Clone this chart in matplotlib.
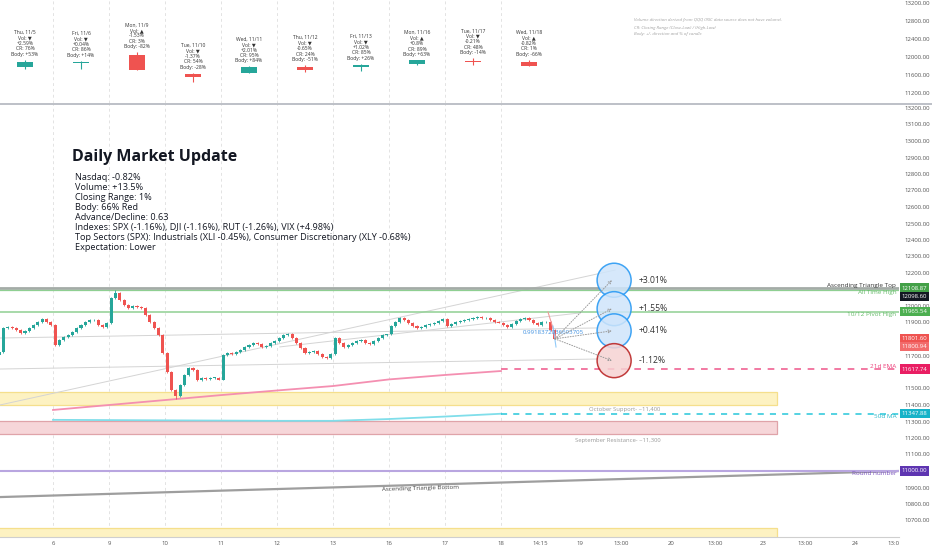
import matplotlib
matplotlib.use('Agg')
import matplotlib.pyplot as plt
from matplotlib.lines import Line2D
from matplotlib.patches import Rectangle

plt.rcParams['font.family'] = ['Open Sans', 'DejaVu Sans']

# ---------------- data ----------------
day_ticks = [0, 1, 2, 3, 4, 5, 6, 7, 8]
day_labels = ['6', '9', '10', '11', '12', '13', '16', '17', '18']
future_ticks = [8.70, 9.41, 10.14, 11.04, 11.82, 12.68, 13.43, 14.32, 15.00]
future_labels = ['14:15', '19', '13:00', '20', '13:00', '23', '13:00', '24', '13:0']

# intraday (30 min) closes, one list per session: 11/5 .. 11/18
session_start = [-1, 0, 1, 2, 3, 4, 5, 6, 7, 8]
first_open = 11703
closes_1105 = [11721, 11867, 11873, 11867, 11855, 11836, 11848, 11867, 11885, 11903, 11921, 11903, 11885]
closes_1106 = [11764, 11794, 11812, 11824, 11842, 11867, 11885, 11903, 11915, 11915, 11885, 11873, 11897]
closes_1109 = [12048, 12079, 12036, 12006, 11988, 12000, 11994, 11988, 11945, 11903, 11867, 11824, 11715]
closes_1110 = [11600, 11491, 11455, 11521, 11582, 11624, 11612, 11552, 11564, 11558, 11564, 11564, 11554]
closes_1111 = [11703, 11715, 11709, 11721, 11733, 11751, 11764, 11776, 11770, 11751, 11758, 11776, 11788]
closes_1112 = [11806, 11824, 11830, 11806, 11776, 11745, 11715, 11721, 11727, 11709, 11691, 11685, 11710]
closes_1113 = [11806, 11776, 11751, 11764, 11776, 11788, 11794, 11776, 11770, 11788, 11806, 11824, 11829]
closes_1116 = [11879, 11903, 11927, 11915, 11897, 11879, 11867, 11873, 11885, 11891, 11897, 11909, 11924]
closes_1117 = [11879, 11891, 11903, 11909, 11915, 11921, 11927, 11933, 11927, 11927, 11915, 11903, 11899]
closes_1118 = [11885, 11873, 11891, 11909, 11921, 11927, 11915, 11897, 11885, 11903, 11903, 11855, 11801]
intraday = [closes_1105, closes_1106, closes_1109, closes_1110, closes_1111,
            closes_1112, closes_1113, closes_1116, closes_1117, closes_1118]
wick_pad = 4
wick_high_override = {(2, 1): 12100}
wick_low_override = {(3, 2): 11436}

# daily summary panel
daily_x = [-0.5, 0.5, 1.5, 2.5, 3.5, 4.5, 5.5, 6.5, 7.5, 8.5]
daily_date = ['Thu, 11/5', 'Fri, 11/6', 'Mon, 11/9', 'Tue, 11/10', 'Wed, 11/11',
              'Thu, 11/12', 'Fri, 11/13', 'Mon, 11/16', 'Tue, 11/17', 'Wed, 11/18']
daily_vol = ['▼', '▼', '▲', '▼', '▼', '▼', '▼', '▲', '▼', '▲']
daily_chg = ['+2.59%', '+0.04%', '-1.53%', '-1.37%', '+2.01%', '-0.65%', '+1.02%', '+0.8%', '-0.21%', '-0.82%']
daily_cr = ['76%', '86%', '3%', '54%', '95%', '24%', '85%', '89%', '48%', '1%']
daily_body = ['+53%', '+14%', '-82%', '-28%', '+84%', '-51%', '+26%', '+63%', '-14%', '-66%']
daily_open = [11785, 11870, 12050, 11613, 11652, 11786, 11785, 11848, 11920, 11894]
daily_high = [11939, 11920, 12108, 11651, 11794, 11824, 11855, 11937, 11977, 11940]
daily_low = [11739, 11740, 11701, 11440, 11634, 11674, 11685, 11817, 11827, 11800]
daily_close = [11891, 11895, 11714, 11554, 11786, 11710, 11829, 11924, 11899, 11801]
top_ticks = [11200, 11600, 12000, 12400, 12800, 13200]

# levels
asc_top = 12108.87
ath = 12098.60
pivot_1012 = 11965.54
ema21_last = 11617.74
ma50_last = 11347.88
round_num = 11000.00
last_price = 11800.94
ema21_x = [0, 1, 2, 3, 4, 5, 6, 7, 8]
ema21_y = [11370, 11400, 11430, 11460, 11488, 11515, 11555, 11582, 11606]
ma50_x = [0, 2, 4, 5, 6, 7, 8]
ma50_y = [11310, 11307, 11304, 11304, 11315, 11330, 11347]
oct_zone = [11400, 11480]
sep_zone = [11224, 11303]
low_zone = [10560, 10655]
zone_end = 12.93
tri_bot_x = [-0.95, 15.11]
tri_bot_y = [10842, 11000]
chan_a_x = [-0.95, 10.04]
chan_a_y = [11400, 12218]
chan_b_x = [4.05, 9.41]
chan_b_y = [11752, 11958]
chan_c_x = [-0.95, 9.72]
chan_c_y = [11806, 11867]
chan_d_x = [-0.95, 9.77]
chan_d_y = [11618, 11679]
proj_pct = [3.01, 1.55, 0.41, -1.12]
proj_x = 10.02
ratio_text = '0.9918372036693705'

# right-scale ticks (values hidden behind price tags are left out)
main_ticks = [10700, 10800, 10900, 11100, 11200, 11300, 11400, 11500, 11700, 11900,
              12000, 12200, 12300, 12400, 12500, 12600, 12700, 12800, 12900, 13000,
              13100, 13200]
tag_vals = [12108.87, 12098.60, 11965.54, 11801.60, 11800.94, 11617.74, 11347.88, 11000.00]
tag_colors = ['#43a047', '#131722', '#4caf50', '#ef5350', '#f26b6b', '#e91e63', '#17b3c8', '#5e35b1']
tag_shift_px = [0, -7, 0, 0, -8, 0, 0, 0]

title = 'Daily Market Update'
summary_lines = [
    'Nasdaq: -0.82%',
    'Volume: +13.5%',
    'Closing Range: 1%',
    'Body: 66% Red',
    'Advance/Decline: 0.63',
    'Indexes: SPX (-1.16%), DJI (-1.16%), RUT (-1.26%), VIX (+4.98%)',
    'Top Sectors (SPX): Industrials (XLI -0.45%), Consumer Discretionary (XLY -0.68%)',
    'Expectation: Lower',
]
notes = ['Volume direction derived from QQQ (IXIC data source does not have volume).',
         'CR: Closing Range (Close-Low) / (High-Low)',
         'Body: +/- direction and % of candle']

UP, DN = '#26a69a', '#ef5350'
GRAY_TXT = '#555555'

# ---------------- figure ----------------
W, H = 932, 550
fig = plt.figure(figsize=(W / 100, H / 100), dpi=100)
fig.patch.set_facecolor('white')


def fbox(l, t, r, b):
    return [l / W, 1 - b / H, (r - l) / W, (b - t) / H]


ax = fig.add_axes(fbox(0, 104, 899, 537))
axt = fig.add_axes(fbox(0, 0, 899, 103))


def xd(px):
    return (px - 53) / 56.0


def yd(py):
    return 11000 + (471 - py) / 0.165


def tyd(py):
    return 12000 + (57 - py) / 0.045


for a in (ax, axt):
    a.set_xlim(xd(0), xd(899))
    for s in a.spines.values():
        s.set_visible(False)
    a.set_facecolor('white')
    for t in day_ticks:
        a.axvline(t, color='#e3e3e3', lw=0.7, ls=(0, (3, 3)), zorder=0)

ax.set_ylim(yd(537), yd(104))
axt.set_ylim(tyd(103), tyd(0))

# ---- y axes
ax.yaxis.tick_right()
ax.set_yticks(main_ticks)
ax.set_yticklabels([f'{v:.2f}' for v in main_ticks])
ax.tick_params(axis='y', length=0, pad=4, labelsize=4.3, labelcolor=GRAY_TXT)
axt.yaxis.tick_right()
axt.set_yticks(top_ticks)
axt.set_yticklabels([f'{v:.2f}' for v in top_ticks])
axt.tick_params(axis='y', length=0, pad=4, labelsize=4.3, labelcolor=GRAY_TXT)
axt.set_xticks([])

# ---- x axis
ax.set_xticks(day_ticks + future_ticks)
ax.set_xticklabels(day_labels + future_labels)
ax.tick_params(axis='x', length=0, pad=3, labelsize=4.3, labelcolor=GRAY_TXT)
ax.spines['bottom'].set_visible(True)
ax.spines['bottom'].set_color('#cfcfcf')
ax.spines['bottom'].set_linewidth(0.8)

# separator between panels
fig.add_artist(Line2D([0, 1], [1 - 103.5 / H, 1 - 103.5 / H], color='#b2b5be', lw=1.2))

# ---- zones
for (lo, hi), fc, ec in [(oct_zone, '#fdf2c2', '#f5df8c'),
                         (sep_zone, '#f6d6d9', '#dfa3a9'),
                         (low_zone, '#fdf2c2', '#f5df8c')]:
    ax.add_patch(Rectangle((xd(0) - 0.05, lo), zone_end - xd(0) + 0.05, hi - lo,
                           fc=fc, ec=ec, lw=0.9, zorder=1))
ax.text(xd(625), yd(410), 'October Support- ~11,400', fontsize=4.2, color='#9a9a9a',
        ha='center', va='center', zorder=2)
ax.text(xd(618), yd(441), 'September Resistance- ~11,300', fontsize=4.2, color='#9a9a9a',
        ha='center', va='center', zorder=2)

# ---- trend / channel lines
for xx, yy in [(chan_a_x, chan_a_y), (chan_b_x, chan_b_y), (chan_c_x, chan_c_y), (chan_d_x, chan_d_y)]:
    ax.plot(xx, yy, color='#d4d4d4', lw=0.7, zorder=2)
ax.plot(tri_bot_x, tri_bot_y, color='#9e9e9e', lw=1.6, zorder=2)
ax.text(xd(420), yd(488), 'Ascending Triangle Bottom', fontsize=4.4, color='#444',
        ha='center', va='center', rotation=1.7, zorder=3)

# horizontal levels
ax.axhline(asc_top, color='#a4aba7', lw=2.0, zorder=2)
ax.axhline(ath, color='#8fcf92', lw=0.9, zorder=2)
ax.axhline(pivot_1012, color='#8fcf92', lw=1.1, zorder=2)
ax.axhline(round_num, color='#b9a6e0', lw=1.5, zorder=2)

ytr = ax.get_yaxis_transform()
ax.text(0.997, asc_top, 'Ascending Triangle Top', transform=ytr, ha='right', va='bottom',
        fontsize=4.6, color='#333', zorder=6)
ax.text(0.997, ath, 'All Time High', transform=ytr, ha='right', va='top',
        fontsize=4.6, color='#66bb6a', zorder=6)
ax.text(0.997, pivot_1012, '10/12 Pivot High', transform=ytr, ha='right', va='top',
        fontsize=4.6, color='#66bb6a', zorder=6)
ax.text(0.997, ema21_last, '21d EMA', transform=ytr, ha='right', va='bottom',
        fontsize=4.6, color='#ec407a', zorder=6)
ax.text(0.997, ma50_last, '50d MA', transform=ytr, ha='right', va='top',
        fontsize=4.6, color='#26b6c8', zorder=6)
ax.text(0.997, round_num, 'Round number', transform=ytr, ha='right', va='top',
        fontsize=4.6, color='#7e57c2', zorder=6)

# moving averages
ax.plot(ema21_x, ema21_y, color='#f48fb1', lw=1.3, zorder=3)
ax.plot([ema21_x[-1], xd(899)], [ema21_last, ema21_last], color='#f06292', lw=1.2,
        dashes=(4, 4), zorder=3)
ax.plot(ma50_x, ma50_y, color='#80deea', lw=1.3, zorder=3)
ax.plot([ma50_x[-1], xd(899)], [ma50_last, ma50_last], color='#26c6da', lw=1.1,
        dashes=(4, 4), zorder=3)

# ---- intraday candles
xs, opens, closes, highs, lows = [], [], [], [], []
prev = first_open
for di, (d, day) in enumerate(zip(session_start, intraday)):
    n = len(day)
    for i, c in enumerate(day):
        o = prev
        xs.append(d + (i + 0.5) / n)
        opens.append(o)
        closes.append(c)
        highs.append(wick_high_override.get((di, i), max(o, c) + wick_pad))
        lows.append(wick_low_override.get((di, i), min(o, c) - wick_pad))
        prev = c
cols = [UP if c >= o else DN for o, c in zip(opens, closes)]
bottoms = [min(o, c) for o, c in zip(opens, closes)]
heights = [max(abs(c - o), 3.0) for o, c in zip(opens, closes)]
ax.vlines(xs, lows, highs, colors=cols, lw=0.6, zorder=4)
ax.bar(xs, heights, bottom=bottoms, width=0.72 / 13, color=cols, lw=0, zorder=4)

# small drawing marks near last bar
ax.plot([xd(548), xd(556)], [yd(312), yd(338)], color='#ef9a9a', lw=0.8, zorder=5)
ax.plot([xd(553), xd(556)], [yd(326), yd(347)], color='#90caf9', lw=0.8, zorder=5)
ax.text(xd(523), yd(333), ratio_text, fontsize=4.4, color='#3d8fe0', ha='left', va='center', zorder=6)

# ---- projections
targets = [last_price * (1 + p / 100) for p in proj_pct]
circ_face = ['#cfe5fb', '#cfe5fb', '#cfe5fb', '#f6d3d3']
circ_edge = ['#2196f3', '#2196f3', '#2196f3', '#b71c1c']
ax.scatter([proj_x] * 4, targets, s=600, c=circ_face, edgecolors=circ_edge,
           linewidths=1.1, alpha=0.85, zorder=7)
for tgt in targets:
    ax.annotate('', xy=(proj_x - 0.04, tgt), xytext=(xs[-1], last_price),
                arrowprops=dict(arrowstyle='->', color='#9a9a9a', lw=0.7, ls=':',
                                shrinkA=0, shrinkB=0, mutation_scale=5), zorder=8)
for p, tgt in zip(proj_pct, targets):
    ax.text(xd(639), tgt, f'{p:+.2f}%', fontsize=6.2, color='#333', ha='left',
            va='center', zorder=8)

# ---- price tags on the right scale
for v, col, sh in zip(tag_vals, tag_colors, tag_shift_px):
    ax.annotate(f'{v:.2f}', xy=(1.0, v), xycoords=ytr, xytext=(2.0, sh * 0.72),
                textcoords='offset points', ha='left', va='center', fontsize=4.3,
                color='white', annotation_clip=False, zorder=10,
                bbox=dict(boxstyle='square,pad=0.35', fc=col, ec='none'))

# ---- daily panel candles
dcols = [UP if c >= o else DN for o, c in zip(daily_open, daily_close)]
dbot = [min(o, c) for o, c in zip(daily_open, daily_close)]
dh = [max(abs(c - o), 15) for o, c in zip(daily_open, daily_close)]
axt.vlines(daily_x, daily_low, daily_high, colors=dcols, lw=0.8, zorder=3)
axt.bar(daily_x, dh, bottom=dbot, width=0.27, color=dcols, lw=0, zorder=3)
for x, hi, dt, vo, ch, cr, bo in zip(daily_x, daily_high, daily_date, daily_vol,
                                     daily_chg, daily_cr, daily_body):
    axt.annotate(f'{dt}\nVol: {vo}\n{ch}\nCR: {cr}\nBody: {bo}', xy=(x, hi),
                 xytext=(0, 2.0), textcoords='offset points', ha='center', va='bottom',
                 fontsize=3.6, linespacing=1.12, color='#333', zorder=4)
for i, n in enumerate(notes):
    yy = [20, 28.5, 33.5][i]
    fig.text(634 / W, 1 - yy / H, n, fontsize=3.2, color='#a0a0a0', style='italic',
             ha='left', va='center')

# ---- title block
fig.text(72 / W, 1 - 157 / H, title, fontsize=11.5, fontweight='bold', color='#131722',
         ha='left', va='center')
for i, line in enumerate(summary_lines):
    fig.text(75 / W, 1 - (178 + 9.9 * i) / H, line, fontsize=6.6, color='#131722',
             ha='left', va='center')

fig.savefig('out.png', dpi=100, facecolor='white')
